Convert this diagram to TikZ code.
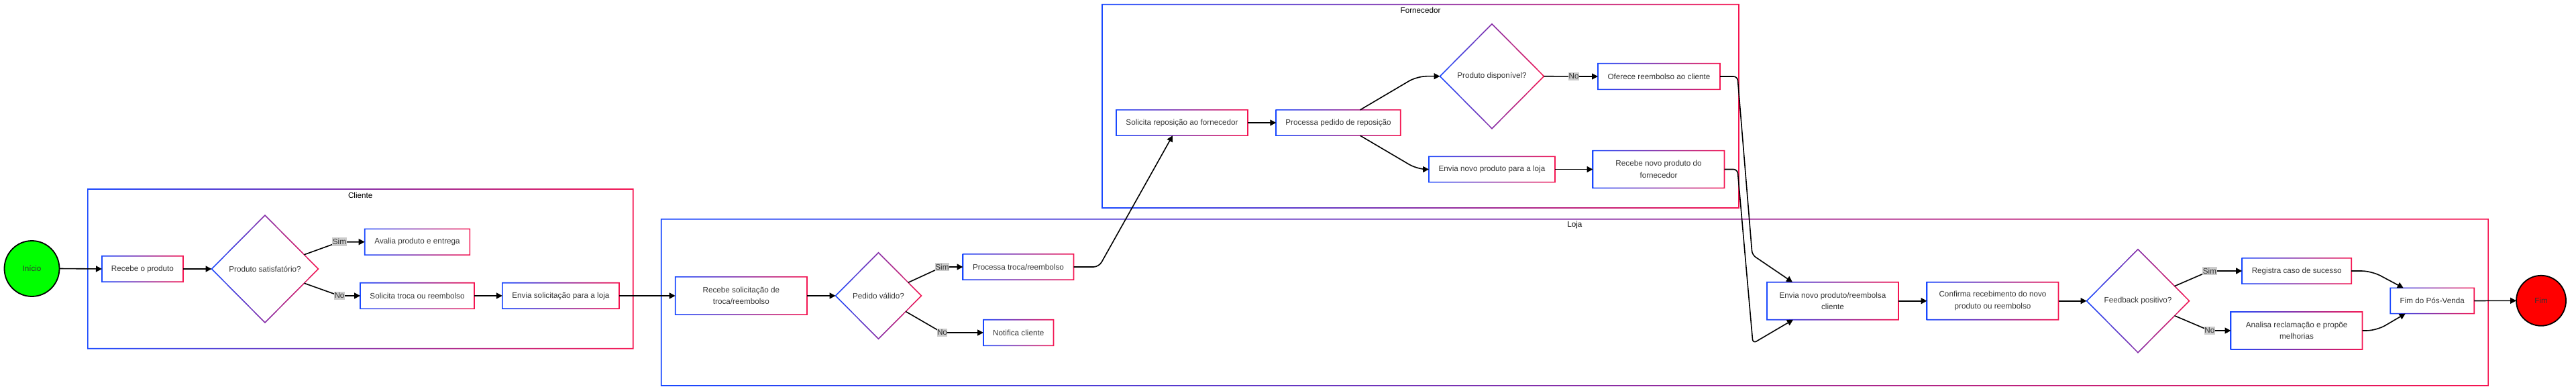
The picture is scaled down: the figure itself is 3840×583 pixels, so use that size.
\documentclass[tikz,border=0pt]{standalone}
\usepackage{fontspec}
\setmainfont{Liberation Sans}
\usetikzlibrary{shapes.geometric,arrows.meta,calc}
\definecolor{gblue}{RGB}{25,72,255}
\definecolor{gred}{RGB}{245,20,80}
\definecolor{txt}{RGB}{51,51,51}
\definecolor{lblgray}{RGB}{204,204,204}
\definecolor{startgreen}{RGB}{0,255,0}
\definecolor{endred}{RGB}{255,0,0}
\newcommand\ringrect[1]{%
 \shade[left color=gblue,right color=gred,even odd rule]
  ([shift={(-0.8pt,0.8pt)}]#1.north west) -- ([shift={(0.8pt,0.8pt)}]#1.north east) -- ([shift={(0.8pt,-0.8pt)}]#1.south east) -- ([shift={(-0.8pt,-0.8pt)}]#1.south west) -- cycle
  ([shift={(0.8pt,-0.8pt)}]#1.north west) -- ([shift={(0.8pt,0.8pt)}]#1.south west) -- ([shift={(-0.8pt,0.8pt)}]#1.south east) -- ([shift={(-0.8pt,-0.8pt)}]#1.north east) -- cycle;}
\newcommand\ringdia[1]{%
 \shade[left color=gblue,right color=gred,even odd rule]
  ([yshift=1.1pt]#1.north) -- ([xshift=1.1pt]#1.east) -- ([yshift=-1.1pt]#1.south) -- ([xshift=-1.1pt]#1.west) -- cycle
  ([yshift=-1.1pt]#1.north) -- ([xshift=1.1pt]#1.west) -- ([yshift=1.1pt]#1.south) -- ([xshift=-1.1pt]#1.east) -- cycle;}
\begin{document}
\begin{tikzpicture}[x=1pt,y=-1pt,
  every node/.style={font=\fontsize{11.7}{17.5}\selectfont, text=txt},
  sz/.style 2 args={minimum width=#1pt, minimum height=#2pt},
  box/.style={rectangle, fill=white, inner sep=0pt, outer sep=0pt, align=center},
  dia/.style={diamond, fill=white, inner sep=0pt, outer sep=0pt, align=center},
  lane/.style={rectangle, inner sep=0pt, outer sep=0pt},
  lanetitle/.style={text=black},
  term/.style={ellipse, draw=black, line width=1.8pt, inner sep=0pt, outer sep=0pt},
  arr/.style={-{Triangle[length=9pt,width=9pt]}, line width=1.6pt, black},
  lbl/.style={fill=lblgray, inner xsep=0.5pt, inner ysep=2pt}
]
\useasboundingbox (0,0) rectangle (3840,583);
% lanes
\node[lane, sz={812.9}{237.7}] (cliente) at (537.25,400.85) {};
\node[lane, sz={2723.3}{248.3}] (loja) at (2347.35,450.85) {};
\node[lane, sz={949}{303.3}] (fornecedor) at (2117.5,158.35) {};
\node[lanetitle] (tcli) at ([yshift=-9pt]cliente.north) {Cliente};
\node[lanetitle] (tloja) at ([yshift=-9pt]loja.north) {Loja};
\node[lanetitle] (tforn) at ([yshift=-8.5pt]fornecedor.north) {Fornecedor};
% terminals
\node[term, fill=startgreen, sz={82}{83}] (inicio) at (47.5,400.5) {Início};
\node[term, fill=endred, sz={74}{75}] (fim) at (3788,448.3) {Fim};
% Cliente
\node[box, sz={121}{38.5}] (recebe) at (212.5,401) {Recebe o produto};
\node[dia, sz={159}{160}] (d1) at (395,401) {Produto satisfatório?};
\node[box, sz={156.7}{38.7}] (avalia) at (622.05,360.7) {Avalia produto e entrega};
\node[box, sz={170}{38.6}] (soltroca) at (622,441) {Solicita troca ou reembolso};
\node[box, sz={174}{38.5}] (envsol) at (835.9,441) {Envia solicitação para a loja};
% Loja
\node[box, sz={196.3}{56.3}] (recsol) at (1104.85,441) {Recebe solicitação de\\troca/reembolso};
\node[dia, sz={128}{128.6}] (d2) at (1309.5,441) {Pedido válido?};
\node[box, sz={165}{38.3}] (proctroca) at (1518,398) {Processa troca/reembolso};
\node[box, sz={104.5}{38.6}] (notif) at (1518.25,496) {Notifica cliente};
\node[box, sz={196}{56}] (envreemb) at (2732,448.7) {Envia novo produto/reembolsa\\cliente};
\node[box, sz={196}{56}] (confirma) at (2970.5,448.7) {Confirma recebimento do novo\\produto ou reembolso};
\node[dia, sz={153}{154}] (d4) at (3187,448.7) {Feedback positivo?};
\node[box, sz={163}{38.3}] (registra) at (3423.7,404) {Registra caso de sucesso};
\node[box, sz={196}{56}] (analisa) at (3423.5,493) {Analisa reclamação e propõe\\melhorias};
\node[box, sz={125}{38.3}] (fimpv) at (3625.7,448.5) {Fim do Pós-Venda};
% Fornecedor
\node[box, sz={196}{38.3}] (solrep) at (1762,183) {Solicita reposição ao fornecedor};
\node[box, sz={185.5}{38.3}] (procped) at (1995,183) {Processa pedido de reposição};
\node[dia, sz={155}{156}] (d3) at (2224,113.7) {Produto disponível?};
\node[box, sz={182}{38.7}] (oferece) at (2473,114) {Oferece reembolso ao cliente};
\node[box, sz={188}{38.3}] (envnovo) at (2224,252.5) {Envia novo produto para a loja};
\node[box, sz={196}{55.7}] (recnovo) at (2472.5,252.5) {Recebe novo produto do\\fornecedor};
% gradient borders
\foreach \n in {cliente,loja,fornecedor,recebe,avalia,soltroca,envsol,recsol,proctroca,notif,envreemb,confirma,registra,analisa,fimpv,solrep,procped,oferece,envnovo,recnovo} {\ringrect{\n}}
\foreach \n in {d1,d2,d3,d4} {\ringdia{\n}}
% connectors
\draw[arr] (inicio.east) -- (recebe.west);
\draw[arr] (recebe.east) -- (d1.west);
\coordinate (c1) at (506,360.7);
\coordinate (c2) at (506,441);
\draw[arr] (d1.20) -- (c1) -- (avalia.west);
\draw[arr] (d1.-20) -- (c2) -- (soltroca.west);
\draw[arr] (soltroca.east) -- (envsol.west);
\draw[arr] (envsol.east) -- (recsol.west);
\draw[arr] (recsol.east) -- (d2.west);
\coordinate (c3) at (1404.5,398);
\coordinate (c4) at (1404.5,496);
\draw[arr] (d2.24) -- (c3) -- (proctroca.west);
\draw[arr] (d2.-30) -- (c4) -- (notif.west);
\draw[arr, rounded corners=8pt] (proctroca.east) -- ++(37.6,0) -- ([xshift=-14pt]solrep.south);
\draw[arr] (solrep.east) -- (procped.west);
\draw[arr, rounded corners=14pt] ([xshift=32.5pt]procped.north) -- ([xshift=-34pt]d3.west) -- (d3.west);
\draw[arr, rounded corners=14pt] ([xshift=32.5pt]procped.south) -- ([xshift=-17pt]envnovo.west) -- (envnovo.west);
\coordinate (c5) at (2346,114);
\draw[arr] (d3.east) -- (c5) -- (oferece.west);
\draw[arr] (envnovo.east) -- (recnovo.west);
\draw[arr, rounded corners=6pt] (oferece.east) -- ++(26,0) -- (2612,380) -- ([xshift=-60pt]envreemb.north);
\draw[arr, rounded corners=6pt] (recnovo.east) -- ++(19.5,0) -- (2613,512) -- ([xshift=-59pt]envreemb.south);
\draw[arr] (envreemb.east) -- (confirma.west);
\draw[arr] (confirma.east) -- (d4.west);
\coordinate (c6) at (3293.9,404);
\coordinate (c7) at (3293.9,493);
\draw[arr] (d4.22) -- (c6) -- (registra.west);
\draw[arr] (d4.-22) -- (c7) -- (analisa.west);
\draw[arr, rounded corners=15pt] (registra.east) -- ++(30,0) -- ([xshift=-43pt]fimpv.north);
\draw[arr, rounded corners=15pt] (analisa.east) -- ++(21,0) -- ([xshift=-40pt]fimpv.south);
\draw[arr] (fimpv.east) -- (fim.west);
% edge labels
\node[lbl] (l1) at (c1) {Sim};
\node[lbl] (l2) at (c2) {No};
\node[lbl] (l3) at (c3) {Sim};
\node[lbl] (l4) at (c4) {No};
\node[lbl] (l5) at (c5) {No};
\node[lbl] (l6) at (c6) {Sim};
\node[lbl] (l7) at (c7) {No};
\end{tikzpicture}
\end{document}
